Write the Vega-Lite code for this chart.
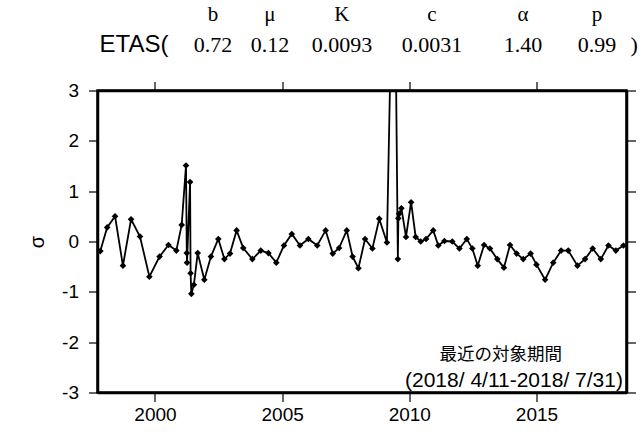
{
  "$schema": "https://vega.github.io/schema/vega-lite/v6.json",
  "width": 529,
  "height": 302,
  "autosize": {"type": "none"},
  "padding": {"left": 97.5, "top": 90.5, "right": 16.5, "bottom": 53.5},
  "background": "white",
  "config": {
    "view": {"stroke": "black", "strokeWidth": 2.5},
    "axis": {
      "grid": false,
      "domainColor": "black",
      "domainWidth": 2.5,
      "tickColor": "black",
      "tickWidth": 1.2,
      "tickSize": 9,
      "labelColor": "black",
      "labelFont": "Liberation Sans",
      "labelFontSize": 19,
      "titleColor": "black"
    }
  },
  "datasets": {
    "series": [
      {"year": 1997.85, "sigma": -0.19},
      {"year": 1998.12, "sigma": 0.28},
      {"year": 1998.43, "sigma": 0.50},
      {"year": 1998.74, "sigma": -0.48},
      {"year": 1999.06, "sigma": 0.44},
      {"year": 1999.41, "sigma": 0.10},
      {"year": 1999.78, "sigma": -0.70},
      {"year": 2000.18, "sigma": -0.30},
      {"year": 2000.53, "sigma": -0.07},
      {"year": 2000.84, "sigma": -0.18},
      {"year": 2001.05, "sigma": 0.33},
      {"year": 2001.22, "sigma": 1.51},
      {"year": 2001.25, "sigma": -0.23},
      {"year": 2001.26, "sigma": -0.42},
      {"year": 2001.38, "sigma": 1.18},
      {"year": 2001.40, "sigma": -0.63},
      {"year": 2001.43, "sigma": -1.04},
      {"year": 2001.53, "sigma": -0.86},
      {"year": 2001.68, "sigma": -0.23},
      {"year": 2001.94, "sigma": -0.76},
      {"year": 2002.20, "sigma": -0.30},
      {"year": 2002.49, "sigma": 0.05},
      {"year": 2002.73, "sigma": -0.35},
      {"year": 2002.95, "sigma": -0.24},
      {"year": 2003.21, "sigma": 0.22},
      {"year": 2003.47, "sigma": -0.13},
      {"year": 2003.83, "sigma": -0.35},
      {"year": 2004.16, "sigma": -0.18},
      {"year": 2004.46, "sigma": -0.23},
      {"year": 2004.77, "sigma": -0.42},
      {"year": 2005.07, "sigma": -0.08},
      {"year": 2005.38, "sigma": 0.15},
      {"year": 2005.70, "sigma": -0.08},
      {"year": 2006.03, "sigma": 0.05},
      {"year": 2006.38, "sigma": -0.08},
      {"year": 2006.71, "sigma": 0.22},
      {"year": 2006.99, "sigma": -0.24},
      {"year": 2007.24, "sigma": -0.13},
      {"year": 2007.54, "sigma": 0.22},
      {"year": 2007.77, "sigma": -0.30},
      {"year": 2008.00, "sigma": -0.53},
      {"year": 2008.26, "sigma": 0.05},
      {"year": 2008.55, "sigma": -0.14},
      {"year": 2008.82, "sigma": 0.45},
      {"year": 2009.12, "sigma": -0.02},
      {"year": 2009.40, "sigma": 7.2},
      {"year": 2009.55, "sigma": -0.35},
      {"year": 2009.57, "sigma": 0.46},
      {"year": 2009.60, "sigma": 0.55},
      {"year": 2009.69, "sigma": 0.66},
      {"year": 2009.87, "sigma": 0.09},
      {"year": 2010.07, "sigma": 0.78},
      {"year": 2010.25, "sigma": 0.09},
      {"year": 2010.45, "sigma": 0.00},
      {"year": 2010.66, "sigma": 0.05},
      {"year": 2010.94, "sigma": 0.22},
      {"year": 2011.14, "sigma": -0.08},
      {"year": 2011.38, "sigma": 0.01},
      {"year": 2011.69, "sigma": 0.00},
      {"year": 2011.97, "sigma": -0.14},
      {"year": 2012.26, "sigma": 0.05},
      {"year": 2012.48, "sigma": -0.14},
      {"year": 2012.69, "sigma": -0.48},
      {"year": 2012.94, "sigma": -0.07},
      {"year": 2013.17, "sigma": -0.14},
      {"year": 2013.46, "sigma": -0.35},
      {"year": 2013.72, "sigma": -0.52},
      {"year": 2013.96, "sigma": -0.07},
      {"year": 2014.22, "sigma": -0.24},
      {"year": 2014.48, "sigma": -0.35},
      {"year": 2014.77, "sigma": -0.24},
      {"year": 2015.00, "sigma": -0.46},
      {"year": 2015.34, "sigma": -0.76},
      {"year": 2015.66, "sigma": -0.42},
      {"year": 2015.97, "sigma": -0.18},
      {"year": 2016.25, "sigma": -0.18},
      {"year": 2016.61, "sigma": -0.48},
      {"year": 2016.91, "sigma": -0.35},
      {"year": 2017.21, "sigma": -0.14},
      {"year": 2017.53, "sigma": -0.35},
      {"year": 2017.83, "sigma": -0.08},
      {"year": 2018.12, "sigma": -0.18},
      {"year": 2018.42, "sigma": -0.08}
    ],
    "params": [
      {"param": "b", "value": "0.72", "pos": 2002.28},
      {"param": "μ", "value": "0.12", "pos": 2004.52},
      {"param": "K", "value": "0.0093", "pos": 2007.35},
      {"param": "c", "value": "0.0031", "pos": 2010.89},
      {"param": "α", "value": "1.40", "pos": 2014.47},
      {"param": "p", "value": "0.99", "pos": 2017.38}
    ]
  },
  "layer": [
    {
      "data": {"name": "series"},
      "mark": {"type": "line", "color": "black", "strokeWidth": 1.8, "clip": true},
      "encoding": {
        "x": {
          "field": "year", "type": "quantitative",
          "scale": {"domain": [1997.74, 2018.54], "nice": false, "zero": false},
          "axis": {"orient": "bottom", "values": [2000, 2005, 2010, 2015], "format": "d", "title": null, "labelPadding": 4}
        },
        "y": {
          "field": "sigma", "type": "quantitative",
          "scale": {"domain": [-3, 3], "nice": false, "zero": false},
          "axis": {"orient": "left", "values": [-3, -2, -1, 0, 1, 2, 3], "labelExpr": "datum.value < 0 ? '-' + abs(datum.value) : '' + datum.value", "title": "σ", "titleFont": "Liberation Sans", "titleFontSize": 20, "titleFontWeight": "normal", "titlePadding": 14, "labelPadding": 10}
        }
      }
    },
    {
      "data": {"name": "series"},
      "mark": {"type": "point", "shape": "diamond", "filled": true, "color": "black", "size": 44, "opacity": 1, "clip": true},
      "encoding": {
        "x": {
          "field": "year", "type": "quantitative",
          "axis": {"orient": "top", "values": [2000, 2005, 2010, 2015], "labels": false, "title": null}
        },
        "y": {
          "field": "sigma", "type": "quantitative",
          "axis": {"orient": "right", "values": [-3, -2, -1, 0, 1, 2, 3], "labels": false, "title": null}
        }
      }
    },
    {
      "data": {"name": "params"},
      "mark": {"type": "text", "font": "Liberation Serif", "fontSize": 21, "color": "black", "align": "center", "baseline": "middle"},
      "encoding": {
        "x": {"field": "pos", "type": "quantitative", "axis": null},
        "y": {"datum": 4.5, "type": "quantitative", "axis": null},
        "text": {"field": "param"}
      }
    },
    {
      "data": {"name": "params"},
      "mark": {"type": "text", "font": "Liberation Serif", "fontSize": 22, "color": "black", "align": "center", "baseline": "middle"},
      "encoding": {
        "x": {"field": "pos", "type": "quantitative", "axis": null},
        "y": {"datum": 3.9, "type": "quantitative", "axis": null},
        "text": {"field": "value"}
      }
    },
    {
      "data": {"values": [{"t": "ETAS("}]},
      "mark": {"type": "text", "font": "Liberation Sans", "fontSize": 24, "color": "black", "align": "left", "baseline": "middle"},
      "encoding": {
        "x": {"datum": 1997.82, "type": "quantitative", "axis": null},
        "y": {"datum": 3.9, "type": "quantitative", "axis": null},
        "text": {"field": "t"}
      }
    },
    {
      "data": {"values": [{"t": ")"}]},
      "mark": {"type": "text", "font": "Liberation Serif", "fontSize": 22, "color": "black", "align": "center", "baseline": "middle"},
      "encoding": {
        "x": {"datum": 2018.84, "type": "quantitative", "axis": null},
        "y": {"datum": 3.9, "type": "quantitative", "axis": null},
        "text": {"field": "t"}
      }
    },
    {
      "data": {"values": [{"t": "最近の対象期間"}]},
      "mark": {"type": "text", "font": "Noto Sans CJK JP", "fontSize": 17.5, "color": "black", "align": "center", "baseline": "middle"},
      "encoding": {
        "x": {"datum": 2013.6, "type": "quantitative", "axis": null},
        "y": {"datum": -2.25, "type": "quantitative", "axis": null},
        "text": {"field": "t"}
      }
    },
    {
      "data": {"values": [{"t": "(2018/ 4/11-2018/ 7/31)"}]},
      "mark": {"type": "text", "font": "Liberation Sans", "fontSize": 21, "color": "black", "align": "right", "baseline": "middle"},
      "encoding": {
        "x": {"datum": 2018.4, "type": "quantitative", "axis": null},
        "y": {"datum": -2.77, "type": "quantitative", "axis": null},
        "text": {"field": "t"}
      }
    }
  ]
}
